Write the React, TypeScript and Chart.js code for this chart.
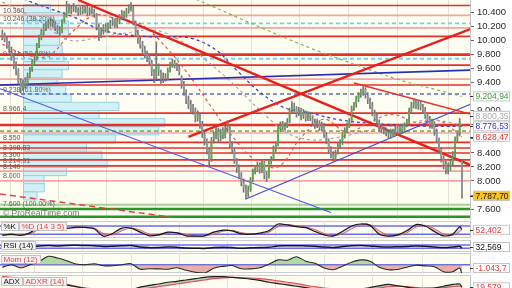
import React, { useEffect, useRef } from "react";
import { Chart, registerables } from "chart.js";

Chart.register(...registerables);

const FONT = '"Liberation Sans", Arial, Helvetica, sans-serif';
const IVORY = "#fdfdf1";
const PLOT_W = 470;
const AXIS_W = 42;
const X_MIN = -1;
const X_MAX = 203.5;

// ---------- data ----------
const monthStartBars = [14, 35, 56, 77, 98, 119, 140, 161, 183];
const priceTicks = [7600, 7800, 8000, 8200, 8400, 8600, 8800, 9000, 9200, 9400, 9600, 9800, 10000, 10200, 10400];

const opens = [
  10100, 10070, 10010, 9940, 9870, 9770, 9640, 9570, 9410, 9340,
  9410, 9380, 9510, 9590, 9710, 9740, 9940, 10050, 10110, 10190,
  10230, 10240, 10270, 10230, 10180, 10140, 10130, 10290, 10370, 10420,
  10450, 10440, 10460, 10430, 10400, 10450, 10410, 10460, 10390, 10440,
  10410, 10370, 10190, 10090, 10130, 10200, 10150, 10210, 10260, 10270,
  10220, 10280, 10350, 10380, 10370, 10430, 10460, 10470, 10250, 10110,
  10000, 9950, 9880, 9810, 9760, 9690, 9550, 9490, 9630, 9540,
  9460, 9490, 9460, 9590, 9660, 9680, 9640, 9600, 9480, 9380,
  9260, 9160, 9090, 9050, 9000, 8890, 8940, 8810, 8670, 8570,
  8430, 8310, 8590, 8640, 8710, 8610, 8710, 8640, 8740, 8780,
  8510, 8430, 8290, 8190, 8080, 7980, 7890, 7820, 7880, 8020,
  8140, 8170, 8230, 8150, 8260, 8090, 8060, 8280, 8310, 8460,
  8520, 8740, 8810, 8770, 8800, 8850, 9020, 9070, 9030, 8970,
  9010, 8930, 8970, 8910, 8940, 8890, 8840, 8810, 8820, 8750,
  8790, 8650, 8570, 8450, 8370, 8340, 8410, 8500, 8550, 8650,
  8730, 8790, 8850, 9030, 9090, 9170, 9230, 9260, 9310, 9220,
  9140, 9090, 8970, 8910, 8830, 8770, 8730, 8710, 8680, 8650,
  8710, 8670, 8750, 8690, 8770, 8710, 8810, 8850, 9000, 9090,
  9120, 9070, 9110, 9050, 9020, 8930, 8880, 8790, 8820, 8710,
  8580, 8450, 8320, 8240, 8150, 8210, 8270, 8360, 8590, 8660,
  8280,
];
const closes = [
  10060, 10020, 9930, 9880, 9760, 9650, 9560, 9420, 9330, 9400,
  9370, 9500, 9580, 9700, 9720, 9930, 10040, 10120, 10180, 10220,
  10250, 10260, 10240, 10190, 10150, 10120, 10280, 10360, 10410, 10460,
  10430, 10470, 10440, 10410, 10440, 10420, 10450, 10400, 10430, 10420,
  10380, 10200, 10100, 10120, 10190, 10160, 10200, 10250, 10280, 10230,
  10270, 10340, 10390, 10360, 10420, 10470, 10480, 10260, 10100, 10010,
  9940, 9890, 9800, 9750, 9700, 9560, 9480, 9640, 9550, 9450,
  9480, 9470, 9580, 9650, 9690, 9650, 9610, 9560, 9370, 9270,
  9150, 9080, 9040, 9010, 8900, 8950, 8800, 8680, 8580, 8440,
  8300, 8580, 8650, 8720, 8600, 8700, 8650, 8730, 8790, 8520,
  8440, 8300, 8180, 8090, 7990, 7900, 7810, 7870, 8010, 8130,
  8180, 8220, 8160, 8270, 8080, 8050, 8270, 8300, 8470, 8510,
  8750, 8800, 8780, 8790, 8840, 9010, 9080, 9040, 8960, 9000,
  8920, 8980, 8900, 8950, 8900, 8850, 8800, 8830, 8760, 8800,
  8660, 8580, 8440, 8380, 8330, 8400, 8510, 8540, 8660, 8720,
  8800, 8840, 9040, 9080, 9180, 9220, 9270, 9300, 9230, 9150,
  9080, 8980, 8900, 8840, 8760, 8740, 8720, 8690, 8660, 8700,
  8680, 8740, 8700, 8760, 8720, 8800, 8840, 9010, 9080, 9130,
  9080, 9100, 9060, 9010, 8940, 8870, 8800, 8830, 8700, 8590,
  8440, 8330, 8230, 8160, 8200, 8260, 8350, 8600, 8650, 8850,
  7787.7,
];
const highs = [
  10150, 10110, 10050, 9990, 9910, 9800, 9700, 9600, 9460, 9440,
  9470, 9540, 9620, 9730, 9780, 9960, 10080, 10160, 10230, 10270,
  10300, 10310, 10300, 10270, 10220, 10200, 10300, 10400, 10560, 10520,
  10490, 10530, 10500, 10470, 10480, 10490, 10500, 10490, 10470, 10480,
  10450, 10390, 10230, 10180, 10230, 10240, 10250, 10290, 10330, 10310,
  10310, 10370, 10430, 10420, 10460, 10510, 10540, 10490, 10280, 10150,
  10050, 9990, 9920, 9850, 9800, 9720, 9590, 9980, 9670, 9580,
  9540, 9530, 9610, 9690, 9740, 9720, 9680, 9640, 9500, 9420,
  9300, 9210, 9150, 9090, 9040, 9000, 8970, 8850, 8710, 8600,
  8470, 8620, 8700, 8770, 8750, 8740, 8760, 8780, 8860, 8800,
  8560, 8470, 8320, 8230, 8120, 8030, 7940, 7930, 8050, 8170,
  8220, 8270, 8250, 8310, 8280, 8130, 8290, 8350, 8500, 8560,
  8780, 8840, 8850, 8830, 8890, 9040, 9130, 9110, 9060, 9050,
  9040, 9020, 9000, 8990, 8980, 8930, 8880, 8880, 8860, 8840,
  8820, 8690, 8600, 8490, 8420, 8440, 8550, 8590, 8690, 8760,
  8830, 8890, 9070, 9120, 9210, 9260, 9310, 9340, 9330, 9260,
  9180, 9120, 9010, 8950, 8870, 8810, 8770, 8750, 8720, 8740,
  8740, 8780, 8790, 8800, 8810, 8830, 8880, 9040, 9120, 9170,
  9160, 9140, 9140, 9090, 9050, 8970, 8920, 8880, 8850, 8740,
  8610, 8480, 8360, 8280, 8260, 8310, 8420, 8630, 8690, 8890,
  8290,
];
const lows = [
  10010, 9980, 9890, 9830, 9720, 9600, 9510, 9380, 9250, 9290,
  9320, 9350, 9470, 9560, 9660, 9720, 9900, 10010, 10080, 10140,
  10180, 10200, 10190, 10140, 10100, 10060, 10110, 10260, 10330, 10390,
  10380, 10410, 10400, 10360, 10370, 10380, 10390, 10350, 10360, 10380,
  10330, 10150, 10000, 10040, 10090, 10120, 10110, 10170, 10210, 10190,
  10180, 10240, 10310, 10310, 10330, 10390, 10420, 10220, 10060, 9960,
  9890, 9830, 9750, 9700, 9640, 9500, 9400, 9450, 9500, 9390,
  9400, 9420, 9440, 9550, 9620, 9610, 9570, 9510, 9320, 9220,
  9100, 9030, 8980, 8950, 8840, 8850, 8750, 8620, 8510, 8380,
  8200, 8280, 8540, 8600, 8550, 8570, 8600, 8610, 8700, 8470,
  8390, 8250, 8120, 8030, 7930, 7840, 7740, 7770, 7850, 7990,
  8100, 8130, 8110, 8120, 8030, 7990, 8040, 8240, 8290, 8420,
  8500, 8700, 8730, 8720, 8760, 8830, 8980, 8990, 8910, 8930,
  8870, 8890, 8850, 8860, 8860, 8800, 8750, 8760, 8720, 8710,
  8620, 8530, 8400, 8330, 8280, 8300, 8380, 8460, 8520, 8610,
  8690, 8760, 8830, 9000, 9050, 9130, 9190, 9220, 9180, 9100,
  9030, 8930, 8850, 8790, 8710, 8690, 8670, 8640, 8610, 8610,
  8640, 8640, 8660, 8660, 8680, 8690, 8770, 8820, 8970, 9040,
  9030, 9020, 9010, 8960, 8890, 8820, 8750, 8750, 8650, 8540,
  8390, 8270, 8170, 8100, 8100, 8150, 8230, 8340, 8560, 8640,
  7755,
];

// horizontal levels, grouped by kind
const redLevels = [10500, 10060, 9650, 9367, 8966, 8550, 8469, 8399, 8300, 8215];
const majorRedLevels = [9800, 8797];
const pinkLevels = [10360, 10180, 9452, 8683, 8140, 8000];
const fibLevels = [10246, 9741];
const fib618Levels = [9238];
const greenDashLevels = [8711];
const lightGreenLevels = [7660];
const greenLevels = [7600, 7490];

const levelLabels = [
  { price: 10360, text: "10.360" },
  { price: 10246, text: "10.246 (38.20%)" },
  { price: 9741, text: "9.741 (50.00%)" },
  { price: 9238, text: "9.238 (61.80%)" },
  { price: 8966, text: "8.966,4" },
  { price: 8550, text: "8.550" },
  { price: 8399, text: "8.398,83" },
  { price: 8300, text: "8.300" },
  { price: 8215, text: "8.214,91" },
  { price: 8140, text: "8.140" },
  { price: 8000, text: "8.000" },
  { price: 7600, text: "7.600 (100.00%)" },
];

// trend lines as [bar index, price]
const trendRedMain = [[33, 10578], [205, 8208]];
const trendRedRising = [[81, 8627], [205, 10180]];
const trendRedApril = [[153, 9396], [205, 8940]];
const trendRedDashedLow = [[-1, 7815], [73, 7487]];
const trendBlueFlat = [[-1, 9367], [205, 9581]];
const trendBlueFalling = [[-1, 9314], [143, 7551]];
const trendBlueRising = [[106, 7743], [205, 9111]];

// moving averages as [bar index, price]
const maFast = [[0, 9950], [10, 9800], [20, 9780], [30, 10110], [40, 10360], [50, 10310], [60, 10240], [70, 9950], [80, 9560], [90, 9100], [100, 8640], [110, 8300], [120, 8200], [130, 8620], [140, 8880], [150, 8690], [160, 8840], [170, 8950], [180, 8830], [190, 8860], [200, 8628.47]];
const maMid = [[0, 10550], [15, 10300], [29, 10008], [43, 10051], [54, 10108], [66, 10151], [77, 10008], [87, 9766], [100, 9396], [112, 9011], [124, 8684], [135, 8584], [147, 8627], [160, 8726], [173, 8797], [186, 8869], [200, 8800.35]];
const maSlow = [[0, 10750], [11, 10570], [32, 10322], [43, 10151], [59, 10065], [71, 10051], [82, 10037], [93, 9866], [101, 9609], [112, 9268], [123, 9040], [134, 8968], [147, 8869], [164, 8812], [182, 8783], [200, 8776.53]];
const maLong = [[60, 10900], [85, 10578], [110, 10220], [134, 9894], [155, 9640], [173, 9438], [190, 9290], [200, 9204.94]];

// volume by price
const PROFILE_BIN = 116;
const profileBinLows = [7728, 7844, 7960, 8076, 8192, 8308, 8424, 8540, 8656, 8772, 8888, 9004, 9120, 9236, 9352, 9468, 9584, 9700, 9816, 9932, 10048, 10164, 10280, 10396];
const profileVolumes = [15, 23, 23, 48, 93, 87, 70, 102, 150, 157, 84, 106, 53, 47, 37, 43, 50, 45, 43, 40, 50, 50, 45, 30];

const mainMarkers = [
  { value: 9204.94, decimals: 2, color: "#3a9a3a", bg: "#ffffff" },
  { value: 8800.35, decimals: 2, color: "#a9a9a9", bg: "#ffffff" },
  { value: 8776.53, decimals: 2, color: "#3434c4", bg: "#ffffff" },
  { value: 8628.47, decimals: 2, color: "#e03030", bg: "#ffffff" },
  { value: 7787.7, decimals: 2, color: "#111111", bg: "#f7c325" },
];

// indicators (sampled bars)
const indicatorBars = [0, 4, 8, 12, 16, 20, 24, 28, 32, 36, 40, 44, 48, 52, 56, 60, 64, 68, 72, 76, 80, 84, 88, 92, 96, 100, 104, 108, 112, 116, 120, 124, 128, 132, 136, 140, 144, 148, 152, 156, 160, 164, 168, 172, 176, 180, 184, 188, 192, 196, 199, 200];
const stochK = [12, 20, 12, 30, 75, 88, 70, 62, 72, 70, 60, 5, 25, 65, 65, 35, 8, 15, 35, 30, 8, 6, 8, 35, 50, 45, 22, 20, 28, 45, 95, 88, 75, 68, 40, 15, 6, 40, 80, 95, 85, 20, 6, 15, 45, 90, 80, 40, 8, 20, 75, 55];
const stochD = [15, 15, 15, 22, 55, 80, 78, 66, 66, 70, 65, 25, 15, 45, 65, 50, 20, 12, 25, 32, 18, 8, 7, 20, 42, 48, 32, 22, 24, 35, 75, 90, 82, 72, 55, 25, 10, 22, 60, 88, 90, 45, 12, 10, 30, 72, 85, 60, 22, 12, 40, 52.402];
const stochLevels = [80, 20];
const rsi = [40, 38, 35, 45, 58, 63, 58, 65, 66, 64, 62, 52, 55, 60, 63, 45, 38, 40, 44, 43, 32, 30, 28, 38, 42, 38, 30, 35, 40, 42, 58, 60, 62, 58, 55, 45, 40, 50, 60, 64, 58, 48, 45, 48, 52, 58, 54, 46, 38, 45, 55, 32.569];
const rsiLevels = [70, 30];
const momentum = [-260, 0, -330, 0, 300, 840, 670, 400, 70, 0, 100, -100, -100, 0, 100, -450, -400, -420, -450, -300, -550, -750, -830, -350, -170, -80, -400, -420, -300, 50, 480, 450, 800, 350, 150, -330, -500, -150, 250, 480, 350, -250, -500, -480, -250, -50, -120, -200, -700, -700, -330, -1043.7];
const adx = [38, 36, 34, 33, 32, 31, 29, 25, 21, 17, 14, 12, 11, 12, 14, 20, 24, 27, 31, 33, 36, 39, 42, 43.5, 43.5, 42, 40, 38, 35, 31, 28, 25, 22, 19, 16, 13, 11, 11, 13, 16, 19, 23, 26, 23, 20, 17, 17, 18, 22, 26, 27, 20];
const adxr = [44, 42, 40, 38, 36, 34, 31.5, 27, 22, 18, 16, 14, 13, 13, 14, 16, 18, 21, 24, 27, 30, 33, 36, 39, 41, 42, 41.5, 40.5, 39, 37, 34, 31, 28, 24, 21, 18, 16, 14, 13, 13, 15, 18, 21, 22, 21, 19, 18, 18, 19, 21, 22, 19.579];

// ---------- helpers ----------
const fmt = (v: number, d: number) => {
  const neg = v < 0;
  const parts = Math.abs(v).toFixed(d).split(".");
  const int = parts[0].replace(/\B(?=(\d{3})+(?!\d))/g, ".");
  return (neg ? "-" : "") + int + (parts[1] ? "," + parts[1] : "");
};
const xy = (pairs: number[][]) => pairs.map(([x, y]) => ({ x, y }));
const series = (bars: number[], values: number[]) => bars.map((x, i) => ({ x, y: values[i] }));
const hLine = (v: number) => [{ x: X_MIN, y: v }, { x: X_MAX, y: v }];

function lineDs(data: any[], color: string, width: number, opts: any = {}) {
  return {
    type: "line",
    data,
    borderColor: color,
    borderWidth: width,
    pointRadius: 0,
    pointHoverRadius: 0,
    fill: false,
    tension: 0,
    ...opts,
  };
}

function xScale() {
  return {
    type: "linear",
    position: "bottom",
    min: X_MIN,
    max: X_MAX,
    offset: false,
    afterBuildTicks: (s: any) => {
      s.ticks = monthStartBars.map((v) => ({ value: v }));
    },
    ticks: { display: false },
    grid: { color: "#e3e3d8", drawTicks: false, lineWidth: 1 },
    border: { display: false },
    afterFit: (s: any) => {
      s.height = 0;
      s.paddingLeft = 0;
      s.paddingRight = 0;
    },
  };
}

function yPanelScale(min: number, max: number) {
  return {
    type: "linear",
    position: "right",
    min,
    max,
    ticks: { display: false },
    grid: { display: false },
    border: { display: true, color: "#c4c4c4" },
    afterFit: (s: any) => {
      s.width = AXIS_W;
      s.paddingTop = 0;
      s.paddingBottom = 0;
    },
  };
}

function drawValueBox(ctx: CanvasRenderingContext2D, area: any, y: number, text: string, color: string, bg: string) {
  const x = area.right + 3;
  const w = 37;
  const h = 10;
  ctx.strokeStyle = "#333";
  ctx.lineWidth = 1;
  ctx.beginPath();
  ctx.moveTo(area.right, Math.round(y) + 0.5);
  ctx.lineTo(area.right + 3, Math.round(y) + 0.5);
  ctx.stroke();
  ctx.fillStyle = bg;
  ctx.fillRect(x, y - h / 2, w, h);
  ctx.strokeStyle = "#c6c6c6";
  ctx.strokeRect(x + 0.5, y - h / 2 + 0.5, w - 1, h - 1);
  ctx.fillStyle = color;
  ctx.font = `8.5px ${FONT}`;
  ctx.textAlign = "left";
  ctx.textBaseline = "middle";
  ctx.fillText(text, x + 2.5, y + 0.5);
}

function drawTitle(ctx: CanvasRenderingContext2D, area: any, dy: number, parts: { text: string; color: string }[]) {
  ctx.save();
  ctx.font = `8px ${FONT}`;
  ctx.textBaseline = "middle";
  ctx.textAlign = "left";
  let x = area.left + 1;
  const y = area.top + dy;
  const h = 9;
  for (const p of parts) {
    const w = Math.ceil(ctx.measureText(p.text).width) + 5;
    ctx.fillStyle = "#f2f2f2";
    ctx.fillRect(x, y, w, h);
    ctx.strokeStyle = "#c4c4c4";
    ctx.lineWidth = 1;
    ctx.strokeRect(x + 0.5, y + 0.5, w - 1, h - 1);
    ctx.fillStyle = p.color;
    ctx.fillText(p.text, x + 2.5, y + h / 2 + 0.5);
    x += w;
  }
  ctx.restore();
}

const baseOptions = {
  animation: false,
  responsive: false,
  maintainAspectRatio: false,
  events: [],
  layout: { padding: 0 },
  plugins: { legend: { display: false }, tooltip: { enabled: false } },
};

// ---------- main chart ----------
function buildMainConfig() {
  const datasets: any[] = [];

  profileBinLows.forEach((lo, k) => {
    const v = profileVolumes[k];
    const hi = lo + PROFILE_BIN;
    datasets.push(
      lineDs(
        [{ x: 0, y: lo }, { x: v, y: lo }, { x: v, y: hi }, { x: 0, y: hi }, { x: 0, y: lo }],
        "#9ad3de",
        1,
        { xAxisID: "xv", fill: "shape", backgroundColor: "#d2f1f7", order: 100 }
      )
    );
  });

  pinkLevels.forEach((v) => datasets.push(lineDs(hLine(v), "#f4a4a4", 1.7, { order: 62 })));
  lightGreenLevels.forEach((v) => datasets.push(lineDs(hLine(v), "#9fd68f", 2, { order: 62 })));
  redLevels.forEach((v) => datasets.push(lineDs(hLine(v), "#e6302a", 1.6, { order: 60 })));
  majorRedLevels.forEach((v) => datasets.push(lineDs(hLine(v), "#e6302a", 2.6, { order: 60 })));
  fibLevels.forEach((v) => datasets.push(lineDs(hLine(v), "#79cdee", 1.8, { borderDash: [4, 3], order: 58 })));
  fib618Levels.forEach((v) => datasets.push(lineDs(hLine(v), "#5a6fd0", 1.5, { borderDash: [4, 3], order: 58 })));
  greenDashLevels.forEach((v) => datasets.push(lineDs(hLine(v), "#78ba4e", 1.8, { borderDash: [4, 3], order: 58 })));
  greenLevels.forEach((v) => datasets.push(lineDs(hLine(v), "#2b952b", 2.4, { order: 58 })));

  const maOpts = { borderDash: [3, 3], tension: 0.35, order: 40 };
  datasets.push(lineDs(xy(maLong), "#7bb84f", 1.2, maOpts));
  datasets.push(lineDs(xy(maSlow), "#3c3cd6", 1.3, maOpts));
  datasets.push(lineDs(xy(maMid), "#a5a5a5", 1.2, maOpts));
  datasets.push(lineDs(xy(maFast), "#e85454", 1.2, maOpts));

  datasets.push(lineDs(xy(trendRedMain), "#e8201c", 2.4, { order: 30 }));
  datasets.push(lineDs(xy(trendRedRising), "#e8201c", 2.4, { order: 30 }));
  datasets.push(lineDs(xy(trendRedApril), "#e8302a", 1.5, { order: 30 }));
  datasets.push(lineDs(xy(trendRedDashedLow), "#e84040", 1.5, { borderDash: [6, 4], order: 30 }));
  datasets.push(lineDs(xy(trendBlueFlat), "#2d2db4", 1.6, { order: 30 }));
  datasets.push(lineDs(xy(trendBlueFalling), "#5656e6", 1.2, { order: 30 }));
  datasets.push(lineDs(xy(trendBlueRising), "#4848e0", 1.2, { order: 30 }));

  datasets.push({
    type: "bar",
    data: closes.map((_, i) => ({ x: i, y: [lows[i], highs[i]] })),
    backgroundColor: "#777777",
    barThickness: 1,
    grouped: false,
    borderWidth: 0,
    order: 11,
  });
  datasets.push({
    type: "bar",
    data: closes.map((c, i) => ({ x: i, y: [opens[i], c] })),
    backgroundColor: closes.map((c, i) => (c >= opens[i] ? "#5aad48" : "#959595")),
    barPercentage: 0.72,
    categoryPercentage: 1,
    grouped: false,
    borderWidth: 0,
    order: 10,
  });

  const textPlugin = {
    id: "mainText",
    afterDraw(chart: any) {
      const { ctx, chartArea: a, scales } = chart;
      const ys = scales.y;
      ctx.save();
      ctx.font = `7px ${FONT}`;
      ctx.fillStyle = "#5c5c5c";
      ctx.textAlign = "left";
      ctx.textBaseline = "bottom";
      for (const l of levelLabels) ctx.fillText(l.text, a.left + 3, ys.getPixelForValue(l.price) - 1);
      ctx.font = `8.5px ${FONT}`;
      ctx.fillStyle = "#707070";
      ctx.fillText("\u00a9 ProRealTime.com", a.left + 3, a.bottom - 2);

      const items = mainMarkers
        .map((m) => ({ ...m, y: ys.getPixelForValue(m.value) }))
        .sort((p, q) => q.y - p.y);
      let prev = Infinity;
      for (const it of items) {
        it.y = Math.min(it.y, prev - 10.5);
        prev = it.y;
      }
      const drawOrder = [...items].sort((p, q) => (p.color === "#a9a9a9" ? -1 : q.color === "#a9a9a9" ? 1 : 0));
      for (const it of drawOrder) drawValueBox(ctx, a, it.y, fmt(it.value, it.decimals), it.color, it.bg);
      ctx.restore();
    },
  };

  return {
    type: "bar",
    data: { datasets },
    options: {
      ...baseOptions,
      scales: {
        x: xScale(),
        xv: { type: "linear", display: false, min: 0, max: PLOT_W },
        y: {
          type: "linear",
          position: "right",
          min: 7444,
          max: 10578,
          afterBuildTicks: (s: any) => {
            s.ticks = priceTicks.map((v) => ({ value: v }));
          },
          ticks: {
            autoSkip: false,
            padding: 3,
            color: "#2a2a2a",
            font: { family: FONT, size: 9.5 },
            callback: (v: any) => fmt(Number(v), 0),
          },
          grid: { drawOnChartArea: false, drawTicks: true, tickLength: 4, color: "#666", tickColor: "#666" },
          border: { display: true, color: "#c4c4c4" },
          afterFit: (s: any) => {
            s.width = AXIS_W;
            s.paddingTop = 0;
            s.paddingBottom = 0;
          },
        },
      },
    },
    plugins: [textPlugin],
  };
}

// ---------- indicator panels ----------
function panelPlugin(id: string, dy: number, parts: { text: string; color: string }[], marker: { value: number; decimals: number; color: string }) {
  return {
    id,
    afterDraw(chart: any) {
      const { ctx, chartArea: a, scales } = chart;
      drawTitle(ctx, a, dy, parts);
      let y = scales.y.getPixelForValue(marker.value);
      y = Math.max(a.top + 5, Math.min(a.bottom - 5, y));
      ctx.save();
      drawValueBox(ctx, a, y, fmt(marker.value, marker.decimals), marker.color, "#ffffff");
      ctx.restore();
    },
  };
}

const levelLine = (v: number) => lineDs(hLine(v), "#6a6af2", 1.4, { order: 5 });

function buildStochConfig() {
  return {
    type: "line",
    data: {
      datasets: [
        lineDs(series(indicatorBars, stochK), "#161616", 1.2, {
          tension: 0.3,
          order: 1,
          fill: { target: 1, above: "rgba(120,120,225,0.30)", below: "rgba(232,110,110,0.45)" },
        }),
        lineDs(series(indicatorBars, stochD), "#e25a5a", 1, { tension: 0.3, order: 2 }),
        ...stochLevels.map(levelLine),
      ],
    },
    options: { ...baseOptions, scales: { x: xScale(), y: yPanelScale(-8, 117) } },
    plugins: [panelPlugin("stochText", 1, [{ text: "%K", color: "#111" }, { text: "%D (14 3 5)", color: "#e04848" }], { value: 52.402, decimals: 3, color: "#e04040" })],
  };
}

function buildRsiConfig() {
  return {
    type: "line",
    data: {
      datasets: [
        lineDs(series(indicatorBars, rsi), "#151528", 1.5, { tension: 0.3, order: 1 }),
        ...rsiLevels.map(levelLine),
      ],
    },
    options: { ...baseOptions, scales: { x: xScale(), y: yPanelScale(-15, 130) } },
    plugins: [panelPlugin("rsiText", 1, [{ text: "RSI (14)", color: "#111" }], { value: 32.569, decimals: 3, color: "#111" })],
  };
}

function buildMomConfig() {
  return {
    type: "line",
    data: {
      datasets: [
        lineDs(series(indicatorBars, momentum), "#2a2a2a", 1.1, {
          tension: 0.3,
          order: 1,
          fill: { target: { value: 0 }, above: "rgba(125,195,110,0.6)", below: "rgba(222,120,120,0.6)" },
        }),
        levelLine(0),
      ],
    },
    options: { ...baseOptions, scales: { x: xScale(), y: yPanelScale(-830, 1170) } },
    plugins: [panelPlugin("momText", 2, [{ text: "Mom (12)", color: "#e04848" }], { value: -1043.7, decimals: 1, color: "#e04040" })],
  };
}

function buildAdxConfig() {
  return {
    type: "line",
    data: {
      datasets: [
        lineDs(series(indicatorBars, adx), "#1e1e1e", 1.2, {
          tension: 0.3,
          order: 1,
          fill: { target: 1, above: "rgba(110,110,110,0.35)", below: "rgba(230,120,120,0.40)" },
        }),
        lineDs(series(indicatorBars, adxr), "#e25050", 1.2, { tension: 0.3, order: 2 }),
      ],
    },
    options: { ...baseOptions, scales: { x: xScale(), y: yPanelScale(-9, 47.3) } },
    plugins: [panelPlugin("adxText", 2, [{ text: "ADX", color: "#111" }, { text: "ADXR (14)", color: "#e04848" }], { value: 19.579, decimals: 3, color: "#e04040" })],
  };
}

// ---------- component ----------
const panels = [
  { key: "main", top: 0, height: 220, border: false },
  { key: "stoch", top: 221, height: 17, border: true },
  { key: "rsi", top: 240, height: 12, border: true },
  { key: "mom", top: 253, height: 20, border: true },
  { key: "adx", top: 275, height: 25, border: true },
];

export default function App() {
  const refs = [
    useRef<HTMLCanvasElement | null>(null),
    useRef<HTMLCanvasElement | null>(null),
    useRef<HTMLCanvasElement | null>(null),
    useRef<HTMLCanvasElement | null>(null),
    useRef<HTMLCanvasElement | null>(null),
  ];

  useEffect(() => {
    document.body.style.margin = "0";
    const builders = [buildMainConfig, buildStochConfig, buildRsiConfig, buildMomConfig, buildAdxConfig];
    const charts: Chart[] = [];
    builders.forEach((b, i) => {
      const el = refs[i].current;
      if (el) charts.push(new Chart(el, b() as any));
    });
    return () => charts.forEach((c) => c.destroy());
  }, []);

  return (
    <div
      style={{
        position: "fixed",
        left: 0,
        top: 0,
        width: 512,
        height: 288,
        overflow: "hidden",
        background: "#ffffff",
      }}
    >
      {panels.map((p) => (
        <div
          key={"bg-" + p.key}
          style={{
            position: "absolute",
            left: 0,
            top: p.top,
            width: PLOT_W,
            height: p.height,
            background: IVORY,
            boxSizing: "border-box",
            borderTop: p.border ? "1px solid #cdcdcd" : "none",
            borderBottom: p.border ? "1px solid #cdcdcd" : "none",
          }}
        />
      ))}
      {panels.map((p, i) => (
        <canvas
          key={"cv-" + p.key}
          ref={refs[i]}
          width={PLOT_W + AXIS_W}
          height={p.height}
          style={{ position: "absolute", left: 0, top: p.top, display: "block" }}
        />
      ))}
    </div>
  );
}
